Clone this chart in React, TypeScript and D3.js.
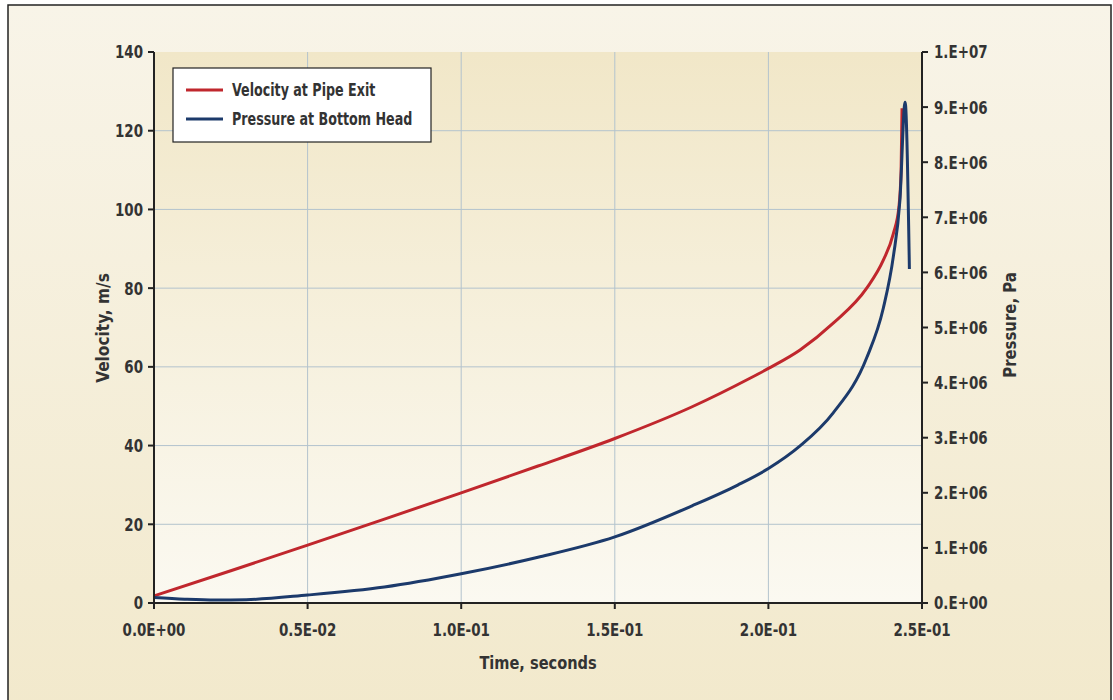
import React from 'react';
import * as d3 from 'd3';

// Velocity at pipe exit (m/s) vs time (s)
const velTime = [0, 0.025, 0.05, 0.075, 0.1, 0.125, 0.15, 0.175, 0.194, 0.2, 0.2103, 0.2211, 0.232, 0.2374, 0.2407, 0.2425, 0.2432, 0.2435];
const velocity = [1.8, 8.2, 14.7, 21.3, 28.0, 34.8, 41.8, 49.8, 57.1, 59.6, 64.3, 71.1, 80.0, 87.1, 93.9, 100.7, 110, 125.7];

// Pressure at bottom head (Pa) vs time (s)
const presTime = [0, 0.01, 0.02, 0.03, 0.05, 0.075, 0.1, 0.125, 0.15, 0.175, 0.19, 0.2, 0.2103, 0.2211, 0.232, 0.2374, 0.2407, 0.2428, 0.2445, 0.2459];
const pressure = [0.10e6, 0.07e6, 0.054e6, 0.06e6, 0.145e6, 0.29e6, 0.53e6, 0.83e6, 1.2e6, 1.76e6, 2.14e6, 2.44e6, 2.85e6, 3.45e6, 4.45e6, 5.35e6, 6.3e6, 7.3e6, 9.09e6, 6.06e6];

const xTicks = [0, 0.05, 0.1, 0.15, 0.2, 0.25];
const xTickLabels = ['0.0E+00', '0.5E-02', '1.0E-01', '1.5E-01', '2.0E-01', '2.5E-01'];
const velTicks = [0, 20, 40, 60, 80, 100, 120, 140];
const presTicks = [0, 1e6, 2e6, 3e6, 4e6, 5e6, 6e6, 7e6, 8e6, 9e6, 1e7];
const presTickLabels = ['0.E+00', '1.E+06', '2.E+06', '3.E+06', '4.E+06', '5.E+06', '6.E+06', '7.E+06', '8.E+06', '9.E+06', '1.E+07'];

const FONT = '"DejaVu Sans Condensed", "Liberation Sans", sans-serif';
const TEXT = '#333';
const RED = '#c0272d';
const BLUE = '#1c3a6b';
const SQUEEZE = 0.83;

// condensed-looking text: DejaVu Condensed squeezed horizontally
function T({ x, y, rot = 0, sx = SQUEEZE, anchor = 'start', size = 18, dy = '0', children }: any) {
  return (
    <text
      transform={`translate(${x},${y}) rotate(${rot}) scale(${sx},1)`}
      textAnchor={anchor}
      fontSize={size}
      dy={dy}
    >
      {children}
    </text>
  );
}

export default function App() {
  const width = 1113;
  const height = 700;
  const m = { left: 154, right: 922, top: 52, bottom: 603 };

  const x = d3.scaleLinear().domain([0, 0.25]).range([m.left, m.right]);
  const yV = d3.scaleLinear().domain([0, 140]).range([m.bottom, m.top]);
  const yP = d3.scaleLinear().domain([0, 1e7]).range([m.bottom, m.top]);

  const velLine = d3.line<number>().x((d, i) => x(velTime[i])).y(d => yV(d)).curve(d3.curveMonotoneX);
  const presLine = d3.line<number>().x((d, i) => x(presTime[i])).y(d => yP(d)).curve(d3.curveMonotoneX);

  return (
    <svg width={width} height={height} style={{ display: 'block' }}>
      <style>{`body{margin:0}`}</style>
      <defs>
        <linearGradient id="outerBg" x1="0" y1="0" x2="0" y2="1">
          <stop offset="0" stopColor="#f8f4e8" />
          <stop offset="1" stopColor="#f2e9cc" />
        </linearGradient>
        <linearGradient id="plotBg" x1="0" y1="0" x2="0" y2="1">
          <stop offset="0" stopColor="#f1e7c8" />
          <stop offset="1" stopColor="#fbf9f1" />
        </linearGradient>
        <clipPath id="plotClip">
          <rect x={m.left} y={m.top - 10} width={m.right - m.left} height={m.bottom - m.top + 10} />
        </clipPath>
      </defs>

      {/* frame */}
      <rect x={8} y={5} width={1103} height={710} fill="url(#outerBg)" stroke="#222" strokeWidth={1.5} />
      <rect x={m.left} y={m.top} width={m.right - m.left} height={m.bottom - m.top} fill="url(#plotBg)" />

      {/* grid */}
      <g stroke="#b3c3cd" strokeWidth={1}>
        {xTicks.slice(1, -1).map(t => (
          <line key={'gx' + t} x1={x(t)} x2={x(t)} y1={m.top} y2={m.bottom} />
        ))}
        {velTicks.slice(1, -1).map(t => (
          <line key={'gy' + t} x1={m.left} x2={m.right} y1={yV(t)} y2={yV(t)} />
        ))}
      </g>

      {/* series */}
      <g clipPath="url(#plotClip)" fill="none" strokeWidth={3} strokeLinejoin="round">
        <path d={velLine(velocity) || ''} stroke={RED} />
        <path d={presLine(pressure) || ''} stroke={BLUE} />
      </g>

      {/* axes */}
      <g stroke="#222" strokeWidth={2}>
        <line x1={m.left} x2={m.left} y1={m.top} y2={m.bottom + 1} />
        <line x1={m.right} x2={m.right} y1={m.top} y2={m.bottom + 1} />
        <line x1={m.left - 1} x2={m.right + 1} y1={m.bottom} y2={m.bottom} />
        {velTicks.map(t => (
          <line key={'tl' + t} x1={m.left - 6} x2={m.left} y1={yV(t)} y2={yV(t)} />
        ))}
        {presTicks.map(t => (
          <line key={'tr' + t} x1={m.right} x2={m.right + 6} y1={yP(t)} y2={yP(t)} />
        ))}
        {xTicks.map(t => (
          <line key={'tb' + t} x1={x(t)} x2={x(t)} y1={m.bottom} y2={m.bottom + 6} />
        ))}
      </g>

      <g fontFamily={FONT} fontWeight="bold" fill={TEXT}>
        {velTicks.map(t => (
          <T key={'ll' + t} x={m.left - 11} y={yV(t)} dy="0.36em" anchor="end">{t}</T>
        ))}
        {presTicks.map((t, i) => (
          <T key={'rl' + t} x={m.right + 12} y={yP(t)} dy="0.36em">{presTickLabels[i]}</T>
        ))}
        {xTicks.map((t, i) => (
          <T key={'bl' + t} x={x(t)} y={636} anchor="middle">{xTickLabels[i]}</T>
        ))}
        <T x={538} y={669} anchor="middle" sx={0.9}>Time, seconds</T>
        <T x={109} y={328} rot={-90} anchor="middle" sx={0.95}>Velocity, m/s</T>
        <T x={1016} y={325} rot={-90} anchor="middle" sx={0.92}>Pressure, Pa</T>
      </g>

      {/* legend */}
      <rect x={173} y={68} width={258} height={74} fill="#fff" stroke="#222" strokeWidth={1.2} />
      <line x1={186} x2={223} y1={90} y2={90} stroke={RED} strokeWidth={3} />
      <line x1={186} x2={223} y1={119} y2={119} stroke={BLUE} strokeWidth={3} />
      <g fontFamily={FONT} fontWeight="bold" fill={TEXT}>
        <T x={232} y={96} size={17}>Velocity at Pipe Exit</T>
        <T x={232} y={125} size={17}>Pressure at Bottom Head</T>
      </g>
    </svg>
  );
}
